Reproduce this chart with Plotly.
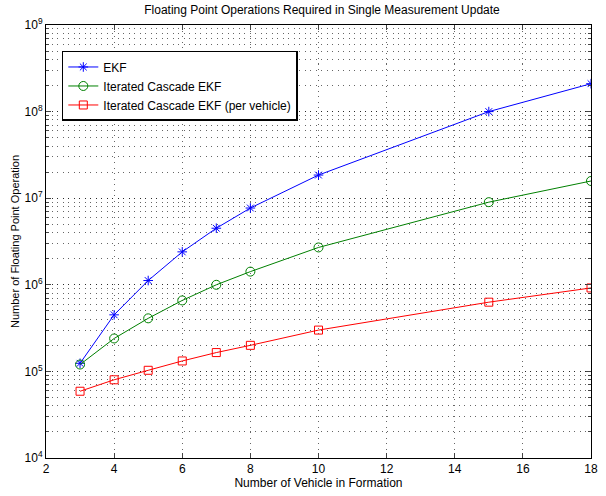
import plotly.graph_objects as go

vehicles = [3, 4, 5, 6, 7, 8, 10, 15, 18]
ekf = [1.24e5, 4.5e5, 1.12e6, 2.4e6, 4.5e6, 7.7e6, 1.85e7, 1.0e8, 2.1e8]
cascade = [1.2e5, 2.4e5, 4.1e5, 6.6e5, 1.0e6, 1.42e6, 2.7e6, 9.0e6, 1.58e7]
per_vehicle = [5.9e4, 8.0e4, 1.03e5, 1.32e5, 1.65e5, 2.0e5, 3.0e5, 6.3e5, 9.2e5]

y_tickvals = [1e4, 1e5, 1e6, 1e7, 1e8, 1e9]
y_ticktext = ["10<sup>4</sup>", "10<sup>5</sup>", "10<sup>6</sup>", "10<sup>7</sup>", "10<sup>8</sup>", "10<sup>9</sup>"]
x_tickvals = [2, 4, 6, 8, 10, 12, 14, 16, 18]

fig = go.Figure()
fig.add_trace(go.Scatter(x=vehicles, y=ekf, mode="lines+markers", name="EKF",
                         line=dict(color="rgb(0,0,255)", width=1),
                         marker=dict(symbol="asterisk-open", size=8, color="rgb(0,0,255)",
                                     line=dict(color="rgb(0,0,255)", width=1))))
fig.add_trace(go.Scatter(x=vehicles, y=cascade, mode="lines+markers", name="Iterated Cascade EKF",
                         line=dict(color="rgb(0,128,0)", width=1),
                         marker=dict(symbol="circle-open", size=9, color="rgb(0,128,0)",
                                     line=dict(color="rgb(0,128,0)", width=1))))
fig.add_trace(go.Scatter(x=vehicles, y=per_vehicle, mode="lines+markers", name="Iterated Cascade EKF (per vehicle)",
                         line=dict(color="rgb(255,0,0)", width=1),
                         marker=dict(symbol="square-open", size=8, color="rgb(255,0,0)",
                                     line=dict(color="rgb(255,0,0)", width=1))))

font = "Liberation Sans, Arial, Helvetica, sans-serif"
grid_dash = "1px,4.5px"
grid_color = "rgba(0,0,0,0.6)"
fig.update_layout(
    width=606, height=496,
    margin=dict(l=46, r=8, t=25, b=33),
    paper_bgcolor="white", plot_bgcolor="white",
    font=dict(family=font, size=12, color="black"),
    title=dict(text="Floating Point Operations Required in Single Measurement Update",
               x=(46 + 276) / 606, xanchor="center", y=1 - 10 / 496, yanchor="middle",
               font=dict(size=12)),
    showlegend=True,
    legend=dict(x=0.029, y=0.94, xanchor="left", yanchor="top",
                bgcolor="white", bordercolor="black", borderwidth=1.5,
                font=dict(size=12), tracegroupgap=0, itemwidth=30),
)
fig.update_xaxes(
    range=[2, 18], tickvals=x_tickvals, ticks="inside", ticklen=5,
    showline=True, linecolor="black", linewidth=1, mirror="ticks",
    showgrid=True, gridcolor=grid_color, griddash=grid_dash, gridwidth=1,
    zeroline=False, tickfont=dict(size=12),
    title=dict(text="Number of Vehicle in Formation", font=dict(size=12), standoff=3),
)
fig.update_yaxes(
    type="log", range=[4, 9], tickvals=y_tickvals, ticktext=y_ticktext,
    ticks="inside", ticklen=5,
    showline=True, linecolor="black", linewidth=1, mirror="ticks",
    showgrid=True, gridcolor=grid_color, griddash=grid_dash, gridwidth=1,
    zeroline=False, tickfont=dict(size=12),
    minor=dict(dtick="D1", ticks="inside", ticklen=3, showgrid=True,
               gridcolor=grid_color, griddash=grid_dash, gridwidth=1),
    title=dict(text="Number of Floating Point Operation", font=dict(size=11), standoff=2),
)

fig.write_html("out.html")
